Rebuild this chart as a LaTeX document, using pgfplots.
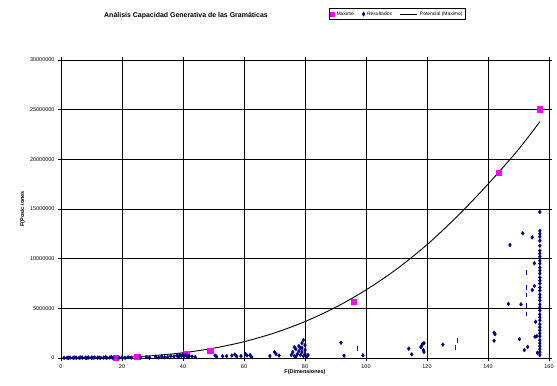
\documentclass[border=0pt]{standalone}
\usepackage{pgfplots}
\pgfplotsset{compat=1.18}
\usepackage{fontspec}
\setmainfont{Liberation Sans}
\definecolor{navy}{RGB}{0,0,128}
\definecolor{mag}{RGB}{255,0,255}
\begin{document}
\begin{tikzpicture}[x=1bp,y=1bp]
\path[use as bounding box] (-61,-27) rectangle (496,358);
\begin{axis}[
  at={(0,0)}, anchor=south west,
  scale only axis, width=488bp, height=298bp,
  xmin=0, xmax=160, ymin=0, ymax=30000000,
  xtick={0,20,...,160},
  ytick={0,5000000,10000000,15000000,20000000,25000000,30000000},
  scaled y ticks=false,
  yticklabel style={/pgf/number format/fixed,/pgf/number format/precision=0,/pgf/number format/1000 sep={}},
  /pgf/number format/assume math mode=true,
  tick label style={font=\fontsize{5.5}{6}\selectfont},
  grid=major,
  major grid style={black, line width=0.6pt},
  axis line style={black, line width=0.6pt},
  tick style={black, line width=0.5pt},
  tick align=outside, major tick length=3bp,
  xlabel={\textbf{F(Dimensiones)}},
  ylabel={\textbf{F(Posic iones}},
  label style={font=\fontsize{5.5}{6}\selectfont},
  xlabel style={yshift=6bp},
  ylabel style={yshift=-2bp},
  clip=false,
  legend columns=3,
  legend style={at={(axis description cs:0.689,1.154)}, anchor=center, draw=black, line width=0.6pt,
    font=\fontsize{5}{6}\selectfont, inner sep=1pt, row sep=0pt,
    /tikz/every even column/.append style={column sep=6bp}},
  legend cell align=left,
]
\addplot[only marks, mark=square*, mark size=2.8pt, color=mag,
  legend image code/.code={\fill[mag] (0.3cm-2bp,-2bp) rectangle (0.3cm+2bp,2bp);}] coordinates {
(18,30000) (25,120000) (41,450000) (49,750000) (96,5650000) (143.5,18650000) (157,25050000)
};
\addlegendentry{Maximo}
\addplot[only marks, mark=diamond*, mark size=1.9pt, color=navy,
  legend image code/.code={\fill[navy] (0.3cm,-2bp) -- (0.3cm+1.3bp,0) -- (0.3cm,2bp) -- (0.3cm-1.3bp,0) -- cycle;}] coordinates {
(1,20000) (2,30000) (2.5,10000) (3,40000) (4,20000) (4.5,50000) (5,30000) (6,20000) (6.5,60000) (7,40000)
(8,30000) (8.5,10000) (9,50000) (10,40000) (10.5,20000) (11,60000) (12,30000) (12.5,50000) (13,20000) (14,40000)
(14.5,70000) (15,30000) (16,50000) (16.5,90000) (17,20000)
(19,30000) (20,60000) (21,20000) (22,80000) (23,40000) (26,60000) (28,100000) (29,40000) (31,120000) (32,50000)
(33,150000) (34,80000) (35,100000) (36,200000) (37,150000) (38,250000) (38.5,100000) (39,300000) (39.5,180000)
(40,350000) (40.5,220000) (41,280000) (41.5,120000) (42,200000) (43,150000) (44,100000)
(50.5,250000) (51,150000) (53,180000) (54.3,200000) (56,250000) (57,350000) (57.6,150000) (59,200000) (60.5,400000)
(61,250000) (62,300000) (62.5,100000)
(68.5,200000) (70,600000) (70.5,400000) (71.5,250000)
(75.5,300000) (76,600000) (76.5,200000) (77,900000) (77.5,400000) (78,1200000) (78,700000) (78.5,300000)
(79,1500000) (79,1000000) (79,600000) (79.5,1800000) (79.5,200000) (80,1300000) (80,800000) (80,400000)
(80.5,100000) (81,300000) (77,150000) (78.5,1000000) (76.5,1100000)
(91.8,1540000) (92.8,230000) (99,270000)
(114,940000) (115,370000) (118,1100000) (118.5,1400000) (118.8,800000) (119,1500000) (119,600000) (118.3,1250000)
(125.2,1350000)
(142,2550000) (142.3,2400000) (142,1740000)
(146.7,5450000) (147.2,11380000) (150.3,1900000) (150.8,5400000) (151.4,12550000) (151.9,800000) (153,1120000)
(154.5,12150000) (155.2,9530000) (155.2,7250000) (154.5,6850000) (155.6,3650000) (155.4,2140000) (156.2,530000)
(156,2200000)
(157,300000) (157,600000) (157,900000) (157,1200000) (157,1500000) (157,1800000) (157,2200000) (157,2500000)
(157,2800000) (157,3100000) (157,3400000) (157,3800000) (157,4100000) (157,4400000) (157,4800000) (157,5100000)
(157,5400000) (157,5800000) (157,6100000) (157,6400000) (157,6800000) (157,7100000) (157,7500000) (157,7800000)
(157,8100000) (157,8500000) (157,8800000) (157,9100000) (157,9500000) (157,9800000) (157,10200000) (157,10500000)
(157,10800000) (157,11300000) (157,11800000) (157,12200000) (157,12500000) (157,12800000) (157,14700000)
};
\addlegendentry{Resultados}
\addplot[only marks, mark=|, mark size=2.2pt, color=navy, mark options={line width=1pt}, forget plot] coordinates {
(97.3,950000) (129.5,1040000) (130,1780000)
(152.7,8600000) (152.7,7100000) (152.7,6350000) (152.7,5300000) (152.7,4400000)
};
\addplot[black, line width=0.9pt, smooth, no marks] coordinates {
(18,56300) (25,141100) (30,235500) (40,526800) (50,984200) (60,1640000) (70,2525000) (80,3667000)
(90,5100000) (100,6850000) (110,8940000) (120,11410000) (130,14290000) (140,17500000) (150,21000000) (157,23800000)
};
\addlegendentry{Potencial (Maximo)}
\end{axis}
\node[font=\fontsize{7}{8}\selectfont\bfseries] at (125,342) {Análisis Capacidad Generativa de las Gramáticas};
\end{tikzpicture}
\end{document}
